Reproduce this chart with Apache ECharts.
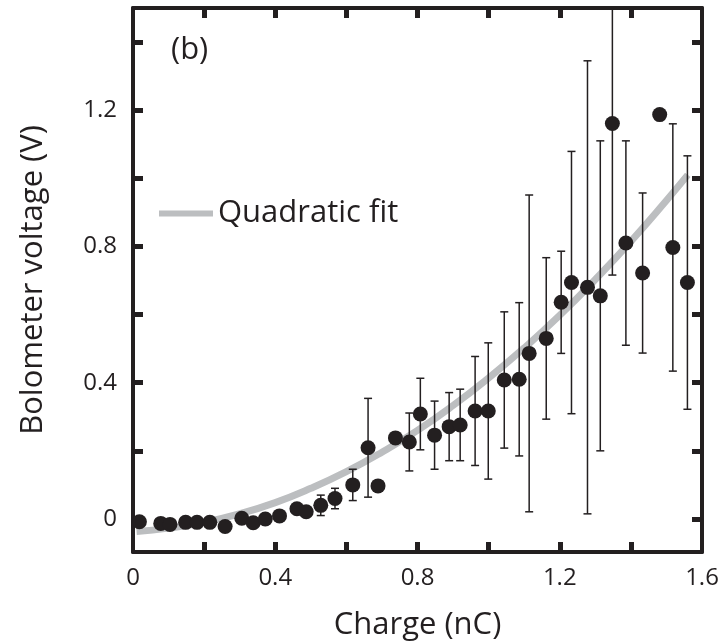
<!DOCTYPE html>
<html>
<head>
<meta charset="utf-8">
<script src="https://cdn.jsdelivr.net/npm/echarts@6/dist/echarts.min.js"></script>
<style>html,body{margin:0;padding:0;background:#fff}#c{width:727px;height:643px}</style>
</head>
<body>
<div id="c"></div>
<script>
// Measured points: charge (nC), bolometer voltage (V), error half-width (V)
const charge = [0.018,0.078,0.104,0.148,0.180,0.216,0.259,0.306,0.338,0.372,0.412,0.461,0.487,0.528,0.568,0.618,0.661,0.689,0.738,0.777,0.808,0.848,0.889,0.920,0.962,0.999,1.044,1.086,1.114,1.162,1.204,1.233,1.278,1.314,1.348,1.386,1.433,1.481,1.518,1.559];
const voltage = [-0.008,-0.013,-0.016,-0.010,-0.010,-0.010,-0.022,0.002,-0.011,0.000,0.009,0.030,0.021,0.040,0.060,0.100,0.209,0.097,0.238,0.226,0.308,0.246,0.271,0.276,0.317,0.317,0.408,0.410,0.486,0.530,0.636,0.694,0.680,0.655,1.161,0.810,0.722,1.187,0.797,0.694];
const errors = [0,0,0,0,0,0,0,0,0,0,0.012,0,0,0.030,0.030,0.046,0.145,0,0,0.085,0.105,0.100,0.100,0.105,0.160,0.200,0.200,0.225,0.465,0.237,0.150,0.385,0.665,0.455,0.445,0.300,0.235,0,0.363,0.372];

// Quadratic fit curve
const fitX = [0.01,0.1,0.2,0.3,0.4,0.5,0.6,0.7,0.8,0.9,1.0,1.1,1.2,1.3,1.4,1.5,1.56];
const fitY = [-0.037,-0.027,-0.010,0.015,0.048,0.090,0.139,0.196,0.260,0.333,0.414,0.502,0.598,0.703,0.815,0.935,1.010];

// Axis ticks and labels
const xTicks = [0.2,0.4,0.6,0.8,1.0,1.2,1.4];
const xLabels = [0,0.4,0.8,1.2,1.6];
const yTicks = [0,0.2,0.4,0.6,0.8,1.0,1.2,1.4];
const yLabels = [0,0.4,0.8,1.2];

const X_MIN = 0, X_MAX = 1.6, Y_MIN = -0.097, Y_MAX = 1.5;
const INK = '#231f20';
const FONT = 'Open Sans';

const pts = charge.map((x,i)=>[x, voltage[i]]);
const errData = charge.map((x,i)=>[x, voltage[i], errors[i]]);
const fitData = fitX.map((x,i)=>[x, fitY[i]]);

const chart = echarts.init(document.getElementById('c'));

function axisBase(extra){
  return Object.assign({
    type:'value',
    axisLine:{show:true,onZero:false,lineStyle:{color:INK,width:4}},
    splitLine:{show:false},
  }, extra);
}

chart.setOption({
  animation:false,
  backgroundColor:'#fff',
  textStyle:{fontFamily:FONT},
  grid:{left:133,right:25,top:8,bottom:91,outerBoundsMode:'none'},
  legend:{
    data:['Quadratic fit'],
    left:154, top:193,
    icon:'rect', itemWidth:54, itemHeight:6,
    textStyle:{fontSize:31,color:INK,fontFamily:FONT},
    selectedMode:false
  },
  graphic:[{
    type:'text', left:171, top:35,
    style:{text:'(b)', font:'31px "Open Sans"', fill:INK}
  }],
  xAxis:[
    axisBase({min:X_MIN,max:X_MAX,position:'bottom',
      axisTick:{show:true,inside:true,length:10,customValues:xTicks,lineStyle:{color:INK,width:5}},
      axisLabel:{customValues:xLabels,fontSize:24,color:INK,margin:14,fontFamily:FONT},
      name:'Charge (nC)',nameLocation:'middle',nameGap:58,
      nameTextStyle:{fontSize:31,color:INK,fontFamily:FONT}}),
    axisBase({min:X_MIN,max:X_MAX,position:'top',
      axisTick:{show:true,inside:true,length:10,customValues:xTicks,lineStyle:{color:INK,width:5}},
      axisLabel:{show:false}})
  ],
  yAxis:[
    axisBase({min:Y_MIN,max:Y_MAX,position:'left',
      axisTick:{show:true,inside:true,length:10,customValues:yTicks,lineStyle:{color:INK,width:5}},
      axisLabel:{customValues:yLabels,fontSize:24,color:INK,margin:16,fontFamily:FONT},
      name:'Bolometer voltage (V)',nameLocation:'middle',nameGap:84,
      nameTextStyle:{fontSize:31,color:INK,fontFamily:FONT}}),
    axisBase({min:Y_MIN,max:Y_MAX,position:'right',
      axisTick:{show:true,inside:true,length:10,customValues:yTicks,lineStyle:{color:INK,width:5}},
      axisLabel:{show:false}})
  ],
  series:[
    {
      name:'Quadratic fit', type:'line', data:fitData, smooth:true,
      showSymbol:false, symbol:'none', z:1,
      lineStyle:{color:'#bcbec0',width:7},
      itemStyle:{color:'#bcbec0'}
    },
    {
      name:'errors', type:'custom', data:errData, z:2,
      renderItem:function(params, api){
        const x = api.value(0), y = api.value(1), e = api.value(2);
        if(!e) return null;
        const topV = Math.min(y+e, Y_MAX), botV = Math.max(y-e, Y_MIN);
        const pT = api.coord([x, topV]), pB = api.coord([x, botV]);
        const hw = 4;
        const st = {stroke:INK, lineWidth:1.5};
        const ch = [{type:'line',shape:{x1:pT[0],y1:pT[1],x2:pB[0],y2:pB[1]},style:st}];
        if(y+e <= Y_MAX) ch.push({type:'line',shape:{x1:pT[0]-hw,y1:pT[1],x2:pT[0]+hw,y2:pT[1]},style:st});
        ch.push({type:'line',shape:{x1:pB[0]-hw,y1:pB[1],x2:pB[0]+hw,y2:pB[1]},style:st});
        return {type:'group',children:ch};
      }
    },
    {
      name:'data', type:'scatter', data:pts, z:3,
      symbol:'circle', symbolSize:15,
      itemStyle:{color:INK, opacity:1}
    }
  ]
});
</script>
</body>
</html>
